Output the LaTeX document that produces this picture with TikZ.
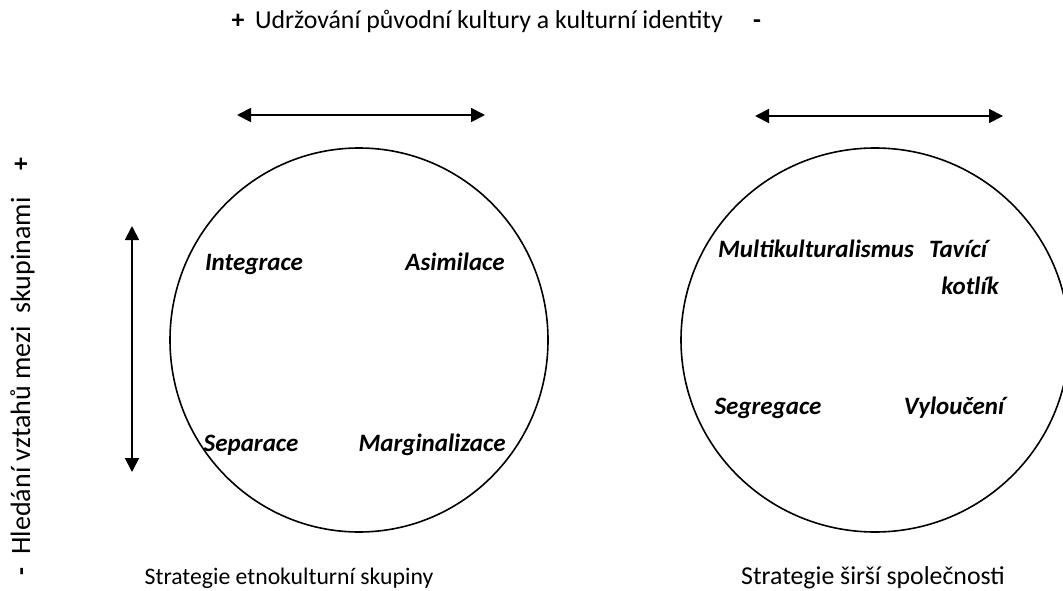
\documentclass[tikz,border=0pt]{standalone}
\usepackage{fontspec}
\setmainfont{Carlito}
\usetikzlibrary{arrows.meta,shapes.geometric}
\tikzset{
  txt/.style={inner sep=0pt, anchor=base, font=\fontsize{25.8}{30}\selectfont},
  bld/.style={txt, font=\fontsize{25.8}{30}\selectfont\bfseries},
  captxt/.style={txt, font=\fontsize{23.7}{28}\selectfont},
  vtxt/.style={txt, rotate=90, font=\fontsize{28}{32}\selectfont},
  lab/.style={txt, font=\fontsize{25}{30}\selectfont\bfseries\itshape},
  ring/.style={draw, line width=1.6pt, ellipse, inner sep=0pt},
  dbl/.style={line width=1.8pt, {Triangle[length=14pt,width=14pt]}-{Triangle[length=14pt,width=14pt]}}
}
\begin{document}
\begin{tikzpicture}[x=1pt,y=-1pt]
\useasboundingbox (0,0) rectangle (1063,591);
% top header
\node[bld] (tplus) at (238,29) {+};
\node[txt] (thead) at (489,29) {Udržování původní kultury a kulturní identity};
\node[bld] (tminus) at (757,29) {-};
% left vertical header
\node[bld, rotate=90] (lplus) at (29,164) {+};
\node[vtxt] (lhead) at (30,376) {Hledání vztahů mezi\ \ skupinami};
\node[bld, rotate=90] (lminus) at (29,572) {-};
% circles
\node[ring, minimum width=378pt, minimum height=384pt] (c1) at (359,340) {};
\node[ring, minimum width=388pt, minimum height=384pt] (c2) at (875,340) {};
% arrows
\coordinate (a1l) at (237,115);
\coordinate (a1r) at (485,115);
\draw[dbl] (a1l) -- (a1r);
\coordinate (a2l) at (755,116);
\coordinate (a2r) at (1003,116);
\draw[dbl] (a2l) -- (a2r);
\coordinate (vt) at (132,226);
\coordinate (vb) at (132,472);
\draw[dbl] (vt) -- (vb);
% labels left circle
\node[lab] (integ) at (254,270) {Integrace};
\node[lab] (asim) at (455,270) {Asimilace};
\node[lab] (sep) at (251,451) {Separace};
\node[lab] (marg) at (432,451) {Marginalizace};
% labels right circle
\node[lab] (multi) at (816,257) {Multikulturalismus};
\node[lab] (tav) at (958,257) {Tavící};
\node[lab] (kot) at (970,294) {kotlík};
\node[lab] (segr) at (768,414) {Segregace};
\node[lab] (vylo) at (954,414) {Vyloučení};
% captions
\node[captxt] (cap1) at (289,584) {Strategie etnokulturní skupiny};
\node[captxt, font=\fontsize{25.8}{30}\selectfont] (cap2) at (873,584) {Strategie širší společnosti};
\end{tikzpicture}
\end{document}
